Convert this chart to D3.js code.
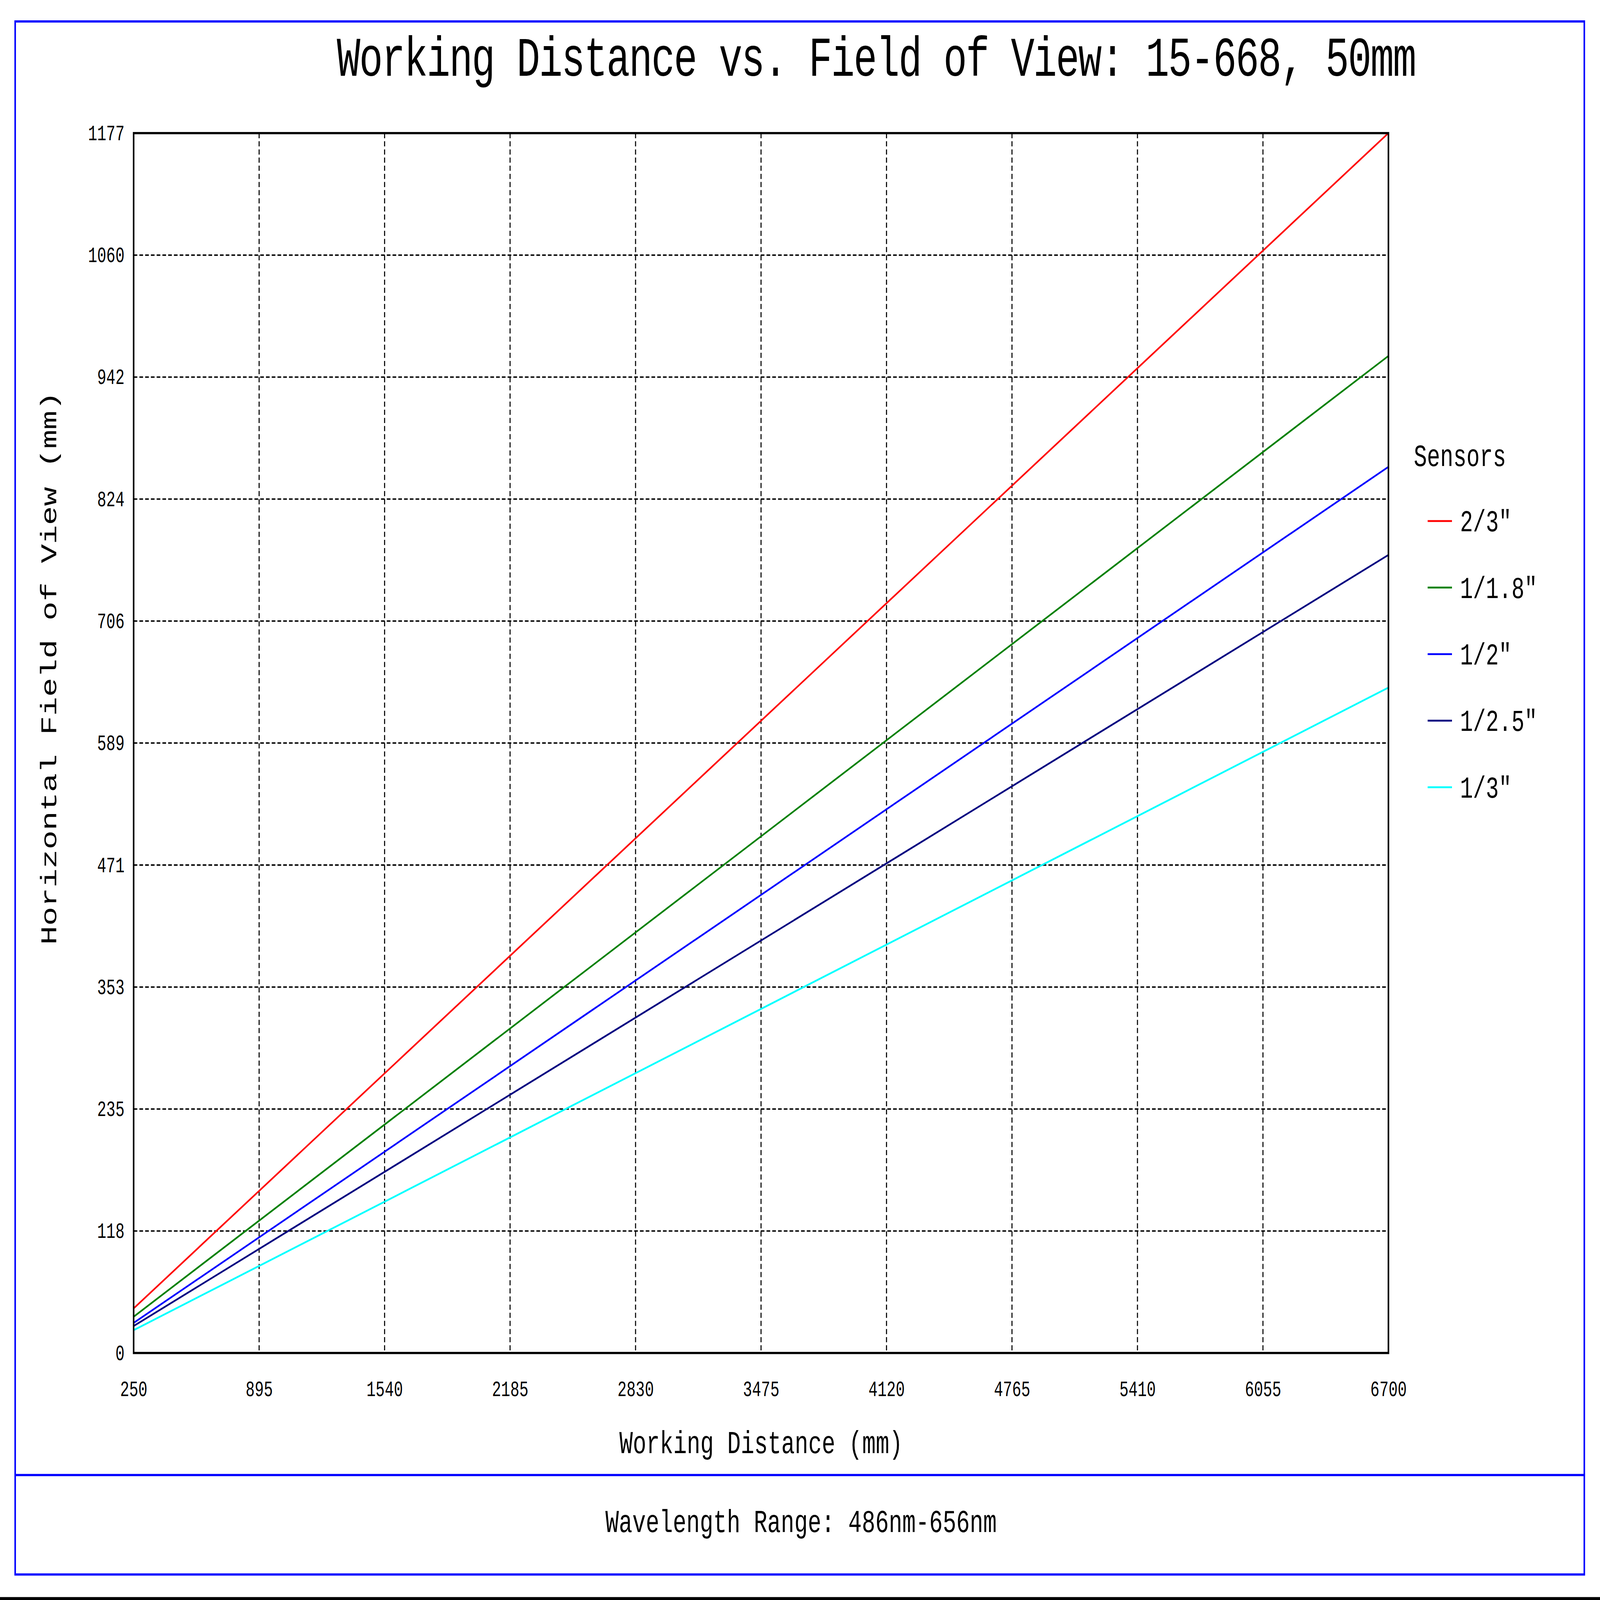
<!DOCTYPE html>
<html><head><meta charset="utf-8">
<script src="https://cdn.jsdelivr.net/npm/d3@7"></script>
<style>html,body{margin:0;padding:0;background:#fff;overflow:hidden;width:100%;height:100%}svg{display:block;width:100vw;height:100vh}</style></head>
<body><svg id="c" viewBox="0 0 6118 4327" preserveAspectRatio="none"></svg>
<script>
const xTicks=[250,895,1540,2185,2830,3475,4120,4765,5410,6055,6700];
const yTickLabels=["0","118","235","353","471","589","706","824","942","1060","1177"];
const yTickValues=[0,117.7,235.4,353.1,470.8,588.5,706.2,823.9,941.6,1059.3,1177];
const sensors=["2/3\"","1/1.8\"","1/2\"","1/2.5\"","1/3\""];
const colors=["#ff0000","#008000","#0000ff","#000080","#00ffff"];
const wd=[250,6700];
const fov2_3=[43,1177];
const fov1_18=[35,962];
const fov1_2=[29,855];
const fov1_25=[26,770];
const fov1_3=[22,642];
const series=[fov2_3,fov1_18,fov1_2,fov1_25,fov1_3];

const svg=d3.select("#c");
const F="'Liberation Mono','DejaVu Sans Mono',monospace";
const L=511,R=5309,T=360,B=3659;
const x=d3.scaleLinear().domain([250,6700]).range([L,R]);
const y=d3.scaleLinear().domain([0,1177]).range([B,T]);

svg.append("rect").attr("x",58).attr("y",58).attr("width",6000).attr("height",4200).attr("fill","none").attr("stroke","#0000ff").attr("stroke-width",6);
svg.append("line").attr("x1",58).attr("x2",6058).attr("y1",3989).attr("y2",3989).attr("stroke","#0000ff").attr("stroke-width",6);
svg.append("line").attr("x1",0).attr("x2",6118).attr("y1",4323).attr("y2",4323).attr("stroke","#000").attr("stroke-width",8);

svg.append("text").attr("x",3352).attr("y",205).attr("text-anchor","middle").attr("font-family",F).attr("font-size",150).attr("textLength",4128).attr("lengthAdjust","spacing").text("Working Distance vs. Field of View: 15-668, 50mm");

const g=svg.append("g");
g.append("g").selectAll("line").data(xTicks.slice(1,-1)).join("line")
 .attr("x1",d=>x(d)).attr("x2",d=>x(d)).attr("y1",T).attr("y2",B).attr("stroke","#000").attr("stroke-width",4).attr("stroke-dasharray","14,8");
g.append("g").selectAll("line").data(yTickValues.slice(1,-1)).join("line")
 .attr("x1",L).attr("x2",R).attr("y1",d=>y(d)).attr("y2",d=>y(d)).attr("stroke","#000").attr("stroke-width",4).attr("stroke-dasharray","14,8");

const line=d3.line().x(d=>x(d[0])).y(d=>y(d[1]));
series.forEach((s,i)=>{
 g.append("path").attr("d",line(wd.map((w,j)=>[w,s[j]]))).attr("fill","none").attr("stroke",colors[i]).attr("stroke-width",5);
});
g.append("rect").attr("x",L).attr("y",T).attr("width",R-L).attr("height",B-T).attr("fill","none").attr("stroke","#000").attr("stroke-width",6);

const xa=svg.append("g").attr("transform",`translate(0,${B})`).call(d3.axisBottom(x).tickValues(xTicks).tickSize(0).tickPadding(75).tickFormat(d3.format("d")));
xa.select(".domain").remove();
xa.selectAll("text").attr("font-family",F).attr("font-size",58).attr("fill","#000");
const ya=svg.append("g").attr("transform",`translate(${L},0)`).call(d3.axisLeft(y).tickValues(yTickValues).tickSize(0).tickPadding(35).tickFormat((d,i)=>yTickLabels[i]));
ya.select(".domain").remove();
ya.selectAll("text").attr("font-family",F).attr("font-size",58).attr("fill","#000");

svg.append("text").attr("x",2910).attr("y",3930).attr("text-anchor","middle").attr("font-family",F).attr("font-size",86).text("Working Distance (mm)");
svg.append("text").attr("transform","translate(215,1807) rotate(-90)").attr("text-anchor","middle").attr("font-family",F).attr("font-size",86).text("Horizontal Field of View (mm)");
svg.append("text").attr("x",3063).attr("y",4143).attr("text-anchor","middle").attr("font-family",F).attr("font-size",86).text("Wavelength Range: 486nm-656nm");

svg.append("text").attr("x",5406).attr("y",1260).attr("font-family",F).attr("font-size",84).text("Sensors");
sensors.forEach((s,i)=>{
 const yy=1409+i*180;
 svg.append("line").attr("x1",5459).attr("x2",5552).attr("y1",yy).attr("y2",yy).attr("stroke",colors[i]).attr("stroke-width",5);
 svg.append("text").attr("x",5583).attr("y",yy+28).attr("font-family",F).attr("font-size",82).text(s);
});
</script></body></html>
